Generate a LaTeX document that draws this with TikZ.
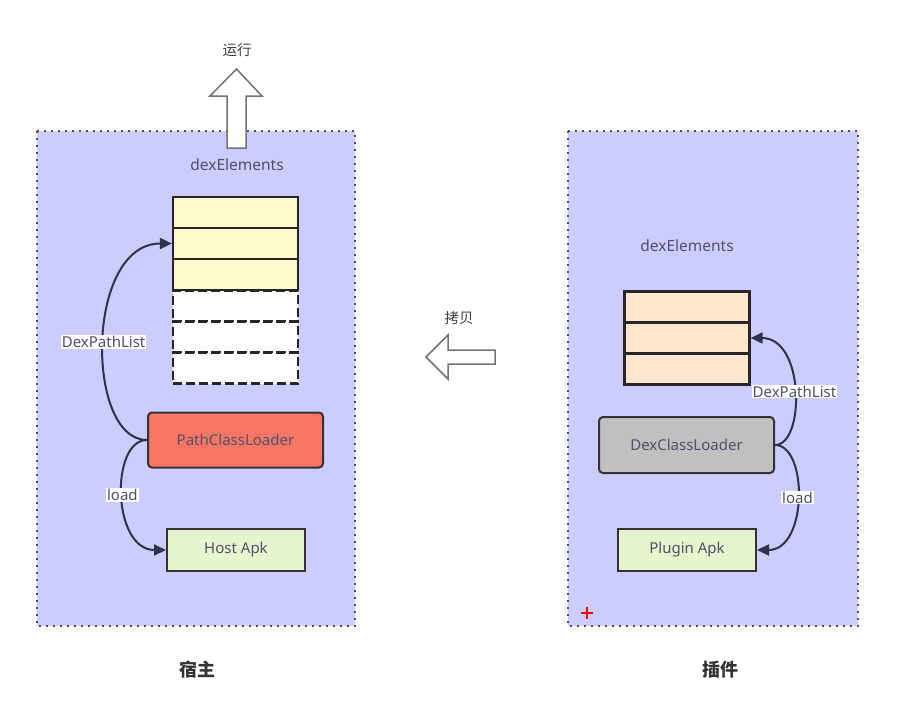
\documentclass[tikz,border=0pt]{standalone}
\usepackage{fontspec}
\setmainfont{Noto Sans}
\newfontfamily\cjk{Noto Sans CJK SC}
\usetikzlibrary{arrows.meta}
\definecolor{lav}{RGB}{204,204,255}
\definecolor{bord}{RGB}{80,80,92}
\definecolor{txt}{RGB}{80,80,105}
\definecolor{edge}{RGB}{45,52,72}
\definecolor{yel}{RGB}{255,250,205}
\definecolor{peach}{RGB}{255,230,204}
\definecolor{salmon}{RGB}{248,118,102}
\definecolor{greyfill}{RGB}{192,192,192}
\definecolor{lgreen}{RGB}{230,245,205}
\begin{document}
\begin{tikzpicture}[x=1pt,y=-1pt,
  container/.style={draw=bord,fill=lav,line width=2.6pt,dash pattern=on 2.4pt off 4.6pt},
  cell/.style={draw=black!85,line width=2.2pt,minimum width=125pt,minimum height=31pt,inner sep=0pt},
  dcell/.style={draw=black!85,fill=white,line width=2.2pt,dash pattern=on 9pt off 4pt,minimum width=125pt,minimum height=31pt,inner sep=0pt},
  box/.style={draw=black!80,line width=2pt,inner sep=0pt,text=txt,font=\fontsize{15}{17}\selectfont},
  lbl/.style={text=txt,font=\fontsize{15.5}{17}\selectfont},
  elbl/.style={fill=white,inner sep=1pt,text=txt,font=\fontsize{15}{17}\selectfont},
  conn/.style={draw=edge,line width=2pt,-{Triangle[length=12pt,width=11pt]}},
  bigarrow/.style={draw=black!55,fill=white,line width=1.5pt},
  cjklbl/.style={text=black!75,font=\cjk\fontsize{14.5}{16}\selectfont},
  titlelbl/.style={text=black!80,font=\cjk\bfseries\fontsize{18}{20}\selectfont}]
\useasboundingbox (0,0) rectangle (903,720);
\fill[white] (0,0) rectangle (903,720);
% containers
\draw[container] (37,131) rectangle (355,626);
\draw[container] (568,131) rectangle (858,626);
% up arrow
\draw[bigarrow] (227,148) -- (227,96) -- (210,96) -- (236.5,69) -- (262,96) -- (246,96) -- (246,148) -- cycle;
\node[cjklbl] (run) at (237,50) {运行};
% left
\node[lbl] (dexL) at (237,165) {dexElements};
\node[dcell] (l4) at (235.5,306) {};
\node[dcell] (l5) at (235.5,337) {};
\node[dcell] (l6) at (235.5,368) {};
\node[cell,fill=yel] (l1) at (235.5,212.5) {};
\node[cell,fill=yel] (l2) at (235.5,243.5) {};
\node[cell,fill=yel] (l3) at (235.5,274.5) {};
\node[box,fill=salmon,rounded corners=4pt,minimum width=175pt,minimum height=55pt] (pcl) at (235.5,440) {PathClassLoader};
\node[box,fill=lgreen,minimum width=138pt,minimum height=42pt] (host) at (236,550) {Host Apk};
\draw[conn] (pcl.west) .. controls (85,440) and (85,243.5) .. (l2.west)
  node[pos=0.5,elbl] (dplL) {DexPathList};
\draw[conn] (pcl.west) .. controls (110,440) and (112,550) .. (host.west)
  node[pos=0.5,elbl] (loadL) {load};
% right
\node[lbl] (dexR) at (687,246) {dexElements};
\node[cell,fill=peach] (r1) at (687,307) {};
\node[cell,fill=peach] (r2) at (687,338) {};
\node[cell,fill=peach] (r3) at (687,369) {};
\node[box,fill=greyfill,rounded corners=4pt,minimum width=175pt,minimum height=56pt] (dcl) at (686.5,445) {DexClassLoader};
\node[box,fill=lgreen,minimum width=138pt,minimum height=42pt] (plug) at (687,550) {Plugin Apk};
\draw[conn] (dcl.east) .. controls (805,445) and (805,338) .. (r2.east)
  node[pos=0.5,elbl] (dplR) {DexPathList};
\draw[conn] (dcl.east) .. controls (808,445) and (808,550) .. (plug.east)
  node[pos=0.5,elbl] (loadR) {load};
% red plus
\draw[red,line width=1.5pt] (581,613) -- (593,613) (587,607) -- (587,619);
% copy arrow
\draw[bigarrow] (495,350) -- (448,350) -- (448,335) -- (426,357) -- (448,379) -- (448,364) -- (495,364) -- cycle;
\node[cjklbl] (copy) at (459,318) {拷贝};
% titles
\node[titlelbl] (host title) at (197,670) {宿主};
\node[titlelbl] (plug title) at (720,670) {插件};
\end{tikzpicture}
\end{document}
